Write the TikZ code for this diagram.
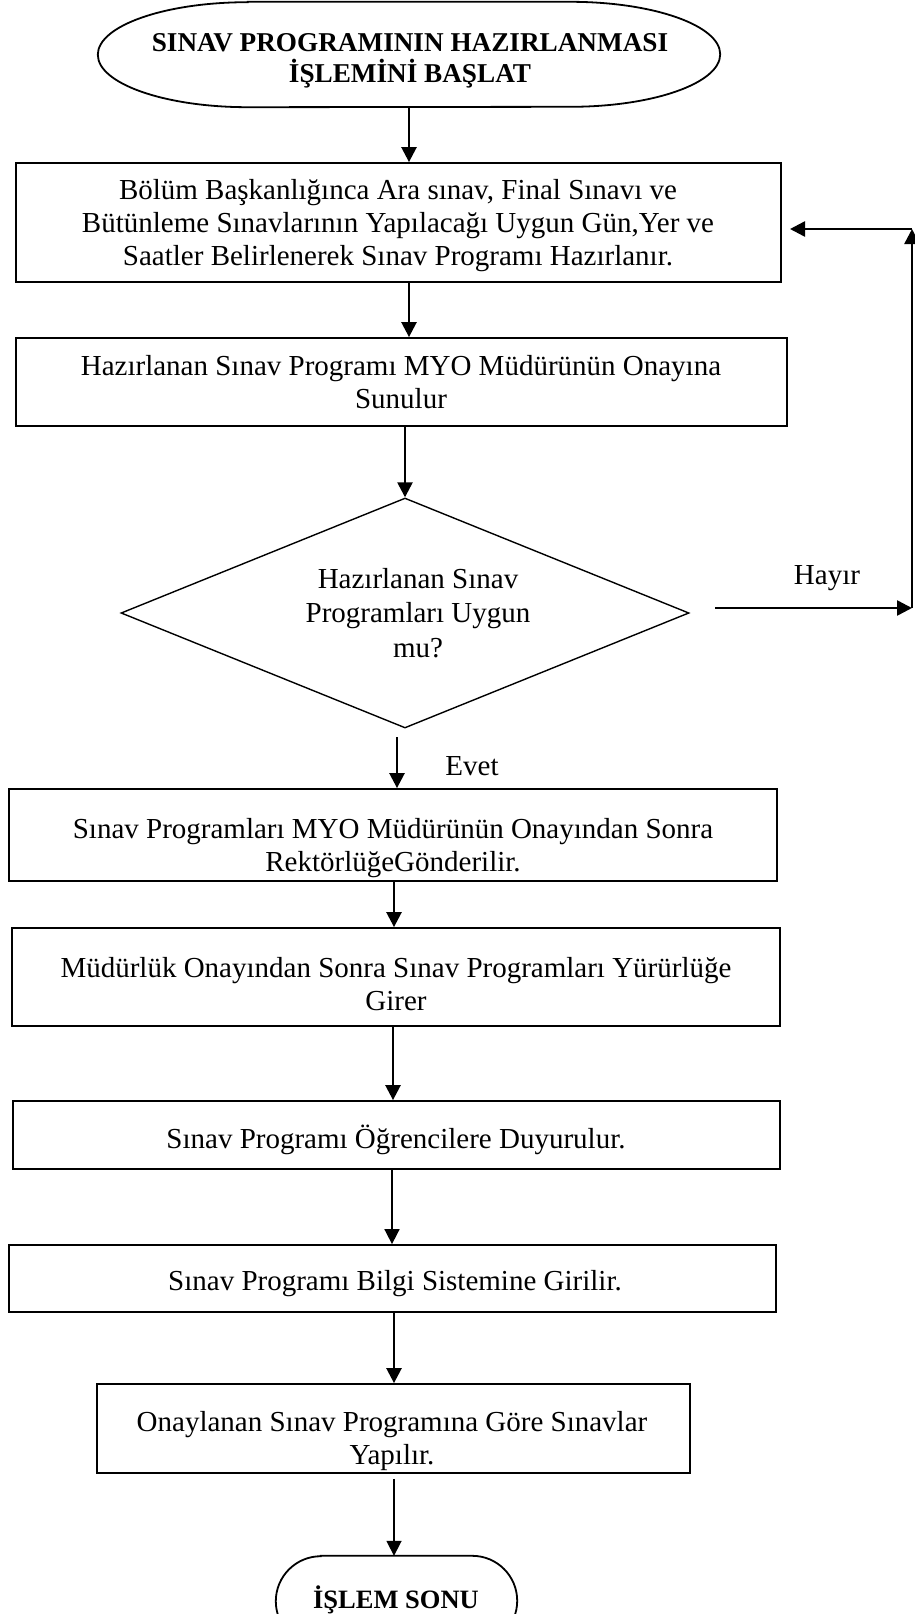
\documentclass[tikz,border=0pt]{standalone}
\usepackage{fontspec}
\setmainfont{Liberation Serif}
\usetikzlibrary{arrows.meta,calc,shapes.geometric}
\begin{document}
\begin{tikzpicture}[x=1pt,y=-1pt,
  boxst/.style={draw, line width=1.8pt, rectangle, inner sep=0pt},
  txt/.style={align=center, inner sep=0pt, font=\fontsize{29}{33}\selectfont},
  btxt/.style={align=center, inner sep=0pt, font=\fontsize{26.5}{30}\selectfont\bfseries},
  arr/.style={line width=2.5pt, -{Triangle[length=15pt,width=15pt]}},
  arrthin/.style={line width=1.7pt, -{Triangle[length=15pt,width=15pt]}},
  termst/.style={line width=1.8pt},
]
\useasboundingbox (0,0) rectangle (915,1614);
\clip (0,0) rectangle (915,1614);

% start terminator
\node[minimum width=622pt, minimum height=105pt, inner sep=0pt] (start) at (409,54.5) {};
\draw[termst] ($(start.north west)+(150,0)$) -- ($(start.north east)+(-150,0)$)
  arc[start angle=90, end angle=-90, x radius=150pt, y radius=52.5pt]
  -- ($(start.south west)+(150,0)$)
  arc[start angle=270, end angle=90, x radius=150pt, y radius=52.5pt] -- cycle;
\node[btxt, font=\fontsize{27.2}{30.5}\selectfont\bfseries] (starttext) at (410,61) {SINAV PROGRAMININ HAZIRLANMASI\\İŞLEMİNİ BAŞLAT};

% boxes
\node[boxst, minimum width=765pt, minimum height=119pt] (b1) at (398.5,222.5) {};
\node[txt] (b1t) at (398,226) {Bölüm Başkanlığınca Ara sınav, Final Sınavı ve\\Bütünleme Sınavlarının Yapılacağı Uygun Gün,Yer ve\\Saatler Belirlenerek Sınav Programı Hazırlanır.};

\node[boxst, minimum width=771pt, minimum height=88pt] (b2) at (401.5,382) {};
\node[txt] (b2t) at (401,382) {Hazırlanan Sınav Programı MYO Müdürünün Onayına\\Sunulur};

\node[draw, line width=1.4pt, diamond, inner sep=0pt, minimum width=568pt, minimum height=230pt] (dia) at (405,613) {};
\node[txt, font=\fontsize{29}{34.5}\selectfont] (diat) at (418,613) {Hazırlanan Sınav\\Programları Uygun\\mu?};

\node[boxst, minimum width=768pt, minimum height=92pt] (b3) at (393,835) {};
\node[txt] (b3t) at (393,848) {Sınav Programları MYO Müdürünün Onayından Sonra\\RektörlüğeGönderilir.};

\node[boxst, minimum width=768pt, minimum height=98pt] (b4) at (396,977) {};
\node[txt] (b4t) at (396,984) {Müdürlük Onayından Sonra Sınav Programları Yürürlüğe\\Girer};

\node[boxst, minimum width=767pt, minimum height=68pt] (b5) at (396.5,1135) {};
\node[txt] (b5t) at (396,1140) {Sınav Programı Öğrencilere Duyurulur.};

\node[boxst, minimum width=767pt, minimum height=67pt] (b6) at (392.5,1278.5) {};
\node[txt] (b6t) at (395,1284) {Sınav Programı Bilgi Sistemine Girilir.};

\node[boxst, minimum width=593pt, minimum height=89pt] (b7) at (393.5,1428.5) {};
\node[txt] (b7t) at (392,1441) {Onaylanan Sınav Programına Göre Sınavlar\\Yapılır.};

% end terminator
\node[minimum width=241pt, minimum height=90pt, inner sep=0pt] (end) at (396.5,1601) {};
\draw[termst] ($(end.north west)+(45,0)$) -- ($(end.north east)+(-45,0)$)
  arc[start angle=90, end angle=-90, x radius=45pt, y radius=45pt]
  -- ($(end.south west)+(45,0)$)
  arc[start angle=270, end angle=90, x radius=45pt, y radius=45pt] -- cycle;
\node[btxt] (endt) at (396,1600) {İŞLEM SONU};

% helper coordinates
\coordinate (colA) at (409,0);
\coordinate (colB) at (394,0);
\coordinate (colC) at (393,0);
\coordinate (colD) at (392,0);
\coordinate (evs) at (397,737);
\coordinate (hs) at (715,608);
\coordinate (rc) at (912,608);
\coordinate (rt) at (912,229);
\coordinate (lt) at (790,229);

% connectors
\draw[arr] (start.south -| colA) -- (b1.north -| colA);
\draw[arr] (b1.south -| colA) -- (b2.north -| colA);
\draw[arr] (b2.south -| dia.north) -- (dia.north);
\draw[arr] (evs) -- (b3.north -| evs);
\node[txt] (evet) at (472,766) {Evet};
\draw[arr] (b3.south -| colB) -- (b4.north -| colB);
\draw[arr] (b4.south -| colC) -- (b5.north -| colC);
\draw[arrthin] (b5.south -| colD) -- (b6.north -| colD);
\draw[arr] (b6.south -| colB) -- (b7.north -| colB);
\draw[arrthin] ($(b7.south -| colB)+(0,5)$) -- (end.north -| colB);

\draw[arr] (hs) -- (rc);
\node[txt] (hayir) at (827,578) {Hayır};
\draw[arr] (rc) -- (rt);
\draw[arr] (rt) -- (lt);
\end{tikzpicture}
\end{document}
